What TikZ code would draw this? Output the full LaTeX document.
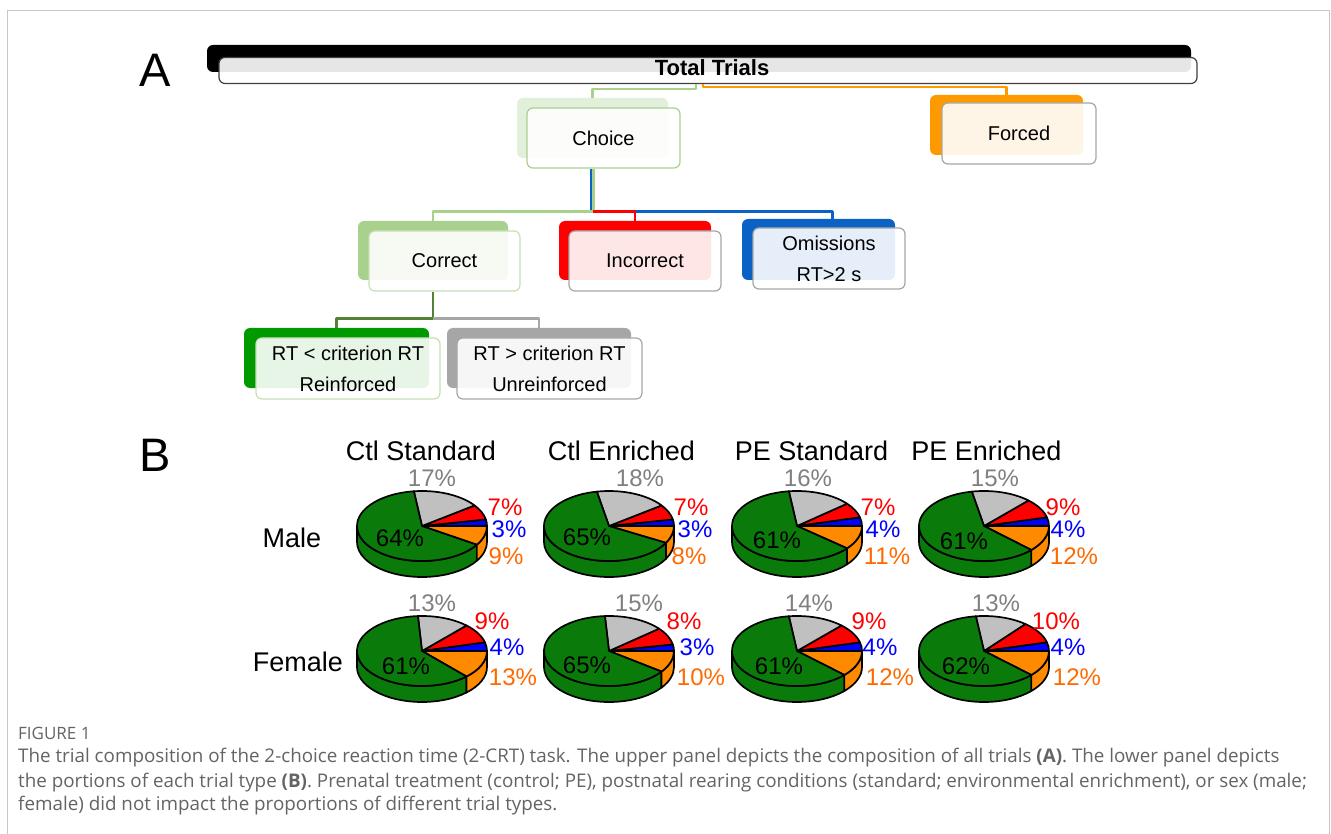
\documentclass[tikz,border=0pt]{standalone}
\usepackage{fontspec}
\setmainfont{Liberation Sans}
\newfontfamily\capfont{Open Sans}
\usetikzlibrary{calc}
\definecolor{lgreen}{HTML}{A9D18E}
\definecolor{pgreen}{HTML}{E2EFDA}
\definecolor{fgreen}{HTML}{C5E0B4}
\definecolor{dgreen}{HTML}{548235}
\definecolor{rgreen}{HTML}{009900}
\definecolor{aorange}{HTML}{FF9900}
\definecolor{ablue}{HTML}{0A62C4}
\definecolor{agray}{HTML}{A6A6A6}
\definecolor{piegreen}{HTML}{0A7A0A}
\definecolor{pieorange}{HTML}{FF8A00}
\definecolor{piegray}{HTML}{C0C0C0}
\definecolor{txorange}{HTML}{FF6A00}
\definecolor{txgray}{HTML}{808080}
\definecolor{capgray}{HTML}{646464}
% 3D pie: centre x, centre y, orange, blue, red, grey (green is the rest)
\newcommand{\pietrois}[6]{%
  \begin{scope}[shift={(#1,#2)}, yscale=-1, draw=black, line width=1.7pt]
    \pgfmathsetmacro{\aO}{-3.6*#3}
    \pgfmathsetmacro{\aB}{3.6*#4}
    \pgfmathsetmacro{\aR}{\aB+3.6*#5}
    \pgfmathsetmacro{\aG}{\aR+3.6*#6}
    \pgfmathsetmacro{\aE}{360+\aO}
    % side wall
    \filldraw[fill=piegreen] (180:{\rx} and {\ry}) arc[start angle=180, end angle=\aE, x radius=\rx, y radius=\ry]
      -- ++(0,-\dz) arc[start angle=\aE, end angle=180, x radius=\rx, y radius=\ry] -- cycle;
    \filldraw[fill=pieorange] (\aE:{\rx} and {\ry}) arc[start angle=\aE, end angle=360, x radius=\rx, y radius=\ry]
      -- ++(0,-\dz) arc[start angle=360, end angle=\aE, x radius=\rx, y radius=\ry] -- cycle;
    % top
    \filldraw[fill=pieorange] (0,0) -- (\aO:{\rx} and {\ry}) arc[start angle=\aO, end angle=0, x radius=\rx, y radius=\ry] -- cycle;
    \filldraw[fill=blue] (0,0) -- (0:{\rx} and {\ry}) arc[start angle=0, end angle=\aB, x radius=\rx, y radius=\ry] -- cycle;
    \filldraw[fill=red] (0,0) -- (\aB:{\rx} and {\ry}) arc[start angle=\aB, end angle=\aR, x radius=\rx, y radius=\ry] -- cycle;
    \filldraw[fill=piegray] (0,0) -- (\aR:{\rx} and {\ry}) arc[start angle=\aR, end angle=\aG, x radius=\rx, y radius=\ry] -- cycle;
    \filldraw[fill=piegreen] (0,0) -- (\aG:{\rx} and {\ry}) arc[start angle=\aG, end angle=\aE, x radius=\rx, y radius=\ry] -- cycle;
  \end{scope}}
\begin{document}
\begin{tikzpicture}[x=1pt, y=-1pt, line join=round, font=\fontsize{20}{31}\selectfont,
  backbox/.style={rounded corners=6pt, inner sep=0pt, fill=#1},
  frontbox/.style={rounded corners=6pt, inner sep=0pt, draw=#1, line width=1.2pt, fill=white, fill opacity=.9, text opacity=1, align=center},
  link/.style={line width=2.5pt, draw=#1},
  pct/.style={font=\fontsize{24}{24}\selectfont, inner sep=0pt},
  head/.style={font=\fontsize{27}{27}\selectfont, inner sep=0pt}]
  \useasboundingbox (0,0) rectangle (1331,834);
  \fill[white] (0,0) rectangle (1331,834);
  \draw[black!22, line width=1pt] (7.5,840) |- (1329.5,10.5) -- (1329.5,840);
  \def\rx{65} \def\ry{35} \def\dz{16}
  % panel A
  \node[font=\fontsize{47}{47}\selectfont] (pa) at (155,70) {A};
  \node[backbox=black, minimum width=984pt, minimum height=27pt] (totalb) at (699,58.5) {};
  \node[frontbox=black!75, minimum width=978pt, minimum height=26pt] (total) at (708,70.5) {};
  \node[font=\fontsize{22}{22}\selectfont\bfseries, inner sep=0pt] (totaltx) at (712,68) {Total Trials};
  \node[backbox=pgreen, minimum width=151pt, minimum height=60pt] (choiceb) at (592.5,128) {};
  \node[frontbox=lgreen, minimum width=153pt, minimum height=60pt] (choice) at (603.5,138) {Choice};
  \node[backbox=aorange, minimum width=153pt, minimum height=60pt] (forcedb) at (1006.5,125) {};
  \node[frontbox=agray, minimum width=154pt, minimum height=61pt] (forced) at (1019,133.5) {Forced};
  \node[backbox=lgreen, minimum width=150pt, minimum height=59pt] (correctb) at (433,250.5) {};
  \node[frontbox=fgreen, minimum width=151pt, minimum height=60pt] (correct) at (444.5,261) {Correct};
  \node[backbox=red, minimum width=152pt, minimum height=59pt] (incorrb) at (635,250.5) {};
  \node[frontbox=agray, minimum width=152pt, minimum height=60pt] (incorr) at (645,261) {Incorrect};
  \node[backbox=ablue, minimum width=153pt, minimum height=61pt] (omitb) at (818.5,249.5) {};
  \node[frontbox=agray, minimum width=152pt, minimum height=61pt] (omit) at (829,258.5) {Omissions\\RT>2 s};
  \node[backbox=rgreen, minimum width=185pt, minimum height=60pt] (rtlob) at (336.5,358) {};
  \node[frontbox=fgreen, minimum width=184pt, minimum height=61pt] (rtlo) at (348,368.5) {RT < criterion RT\\Reinforced};
  \node[backbox=agray, minimum width=184pt, minimum height=60pt] (rthib) at (539,358) {};
  \node[frontbox=agray, minimum width=185pt, minimum height=61pt] (rthi) at (549.5,368.5) {RT > criterion RT\\Unreinforced};
  % links
  \draw[link=lgreen] ([xshift=-12pt]total.south) -- ++(0,5) -| (choiceb.north);
  \draw[link=aorange] ([xshift=-5pt]total.south) -- ++(0,3) -| (forcedb.north);
  \coordinate (cj) at ($(choiceb.center |- choice.south)+(0,43)$);
  \draw[link=ablue] ([xshift=-1.5pt]choiceb.center |- choice.south) |- ([xshift=14pt]omitb.north |- cj) -- ([xshift=14pt]omitb.north);
  \draw[link=lgreen] ([xshift=1pt]choiceb.center |- choice.south) -- ([xshift=1pt]cj) -| (correctb.north);
  \draw[link=red] (cj) -| (incorrb.north);
  \coordinate (kj) at ($(correctb.center |- correct.south)+(0,27)$);
  \draw[link=dgreen] (correctb.center |- correct.south) -- (kj) -| (rtlob.north);
  \draw[link=agray] (kj) -| (rthib.north);
  % panel B
  \node[font=\fontsize{47}{47}\selectfont] (pb) at (155,455) {B};
  \foreach \tx/\x/\n in {Ctl Standard/421/h1, Ctl Enriched/621.5/h2, PE Standard/811.5/h3, PE Enriched/986.5/h4}
    \node[head] (\n) at (\x,451) {\tx};
  \node[head] (male) at (292,538) {Male};
  \node[head] (female) at (298,662) {Female};
  \foreach \cx/\cy/\po/\pb/\pr/\pg in {422/526/9/3/7/17, 609/526/8/3/7/18, 797/526/11/4/7/16, 984/526/12/4/9/15,
      422/651/13/4/9/13, 609/651/10/3/8/15, 797/651/12/4/9/14, 984/651/12/4/10/13}
    \pietrois{\cx}{\cy}{\po}{\pb}{\pr}{\pg};
  \foreach \x/\y/\c/\t [count=\i] in {
      432/478/txgray/17, 505/507/red/7, 509/529/blue/3, 506/556/txorange/9, 400/538/black/64,
      640/478/txgray/18, 691/507/red/7, 695/529/blue/3, 689/556/txorange/8, 587/537/black/65,
      808/478/txgray/16, 878/507/red/7, 883/529/blue/4, 887/556/txorange/11, 777/540/black/61,
      995/478/txgray/15, 1063/507/red/9, 1068/529/blue/4, 1074/556/txorange/12, 964/541/black/61,
      432/603/txgray/13, 492/621/red/9, 507/647/blue/4, 513/677/txorange/13, 406/666/black/61,
      639/603/txgray/15, 684/621/red/8, 697/647/blue/3, 701/677/txorange/10, 587/665/black/65,
      809/603/txgray/14, 869/621/red/9, 880/647/blue/4, 890/677/txorange/12, 779/666/black/61,
      996/603/txgray/13, 1056/621/red/10, 1068/647/blue/4, 1077/677/txorange/12, 966/666/black/62}
    \node[pct, text=\c] (lab\i) at (\x,\y) {\t\%};
  % caption
  \node[anchor=west, inner sep=0pt, text=capgray, font=\capfont\fontsize{17}{17}\selectfont] (fig) at (18,733) {FIGURE 1};
  \begin{scope}[every node/.style={anchor=west, inner sep=0pt, text=capgray, font=\capfont\fontsize{18.8}{18.8}\selectfont}]
    \node (cap1) at (18,758) {The trial composition of the 2-choice reaction time (2-CRT) task. The upper panel depicts the composition of all trials \textbf{(A)}. The lower panel depicts};
    \node (cap2) at (18,783) {the portions of each trial type \textbf{(B)}. Prenatal treatment (control; PE), postnatal rearing conditions (standard; environmental enrichment), or sex (male;};
    \node (cap3) at (18,806) {female) did not impact the proportions of different trial types.};
  \end{scope}
\end{tikzpicture}
\end{document}
